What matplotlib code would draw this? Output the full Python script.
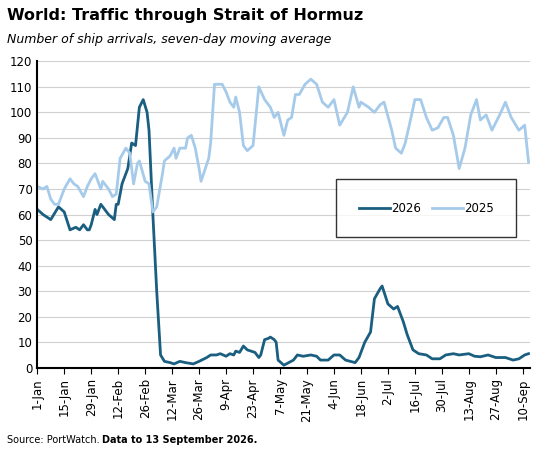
import matplotlib
matplotlib.use("Agg")
import matplotlib.pyplot as plt
import pandas as pd

days_2026 = [0,3,7,11,14,17,20,22,24,26,27,28,30,31,33,35,37,40,41,42,44,46,47,49,51,53,55,57,58,60,62,64,66,69,71,74,77,81,84,88,90,93,95,98,100,102,103,105,107,109,111,113,115,116,118,120,121,123,124,125,128,133,135,138,142,145,147,151,154,157,160,165,167,170,173,175,178,179,182,185,187,190,192,195,198,202,205,209,212,216,219,224,227,230,234,238,243,247,250,253,255]
vals_2026 = [62,60,58,63,61,54,55,54,56,54,54,56,62,60,64,62,60,58,64,64,72,76,78,88,87,102,105,100,93,60,30,5,2.5,2,1.5,2.5,2,1.5,2.5,4,5,5,5.5,4.5,5.5,5,6.5,6,8.5,7,6.5,6,4,5,11,11.5,12,11,10,3,1,3,5,4.5,5,4.5,3,3,5,5,3,2,4,10,14,27,31,32,25,23,24,18,13,7,5.5,5,3.5,3.5,5,5.5,5,5.5,4.5,4.3,5,4,4,3,3.5,5,5.5]

days_2025 = [0,3,5,7,9,11,14,17,19,21,24,26,28,30,33,34,37,39,41,43,46,48,50,52,53,56,58,60,62,65,66,69,71,72,74,77,78,80,82,84,85,89,90,92,96,98,100,102,103,105,107,109,112,115,118,121,123,125,128,130,132,134,136,139,142,145,148,151,154,157,161,164,167,168,172,175,178,180,184,186,189,191,194,196,199,202,205,208,211,213,216,219,222,225,228,230,233,236,240,243,246,250,253,255]
vals_2025 = [71,70,71,66,64,64,70,74,72,71,67,71,74,76,70,73,70,67,68,82,86,84,72,80,81,73,72,61,63,76,81,83,86,82,86,86,90,91,86,78,73,82,88,111,111,108,104,102,106,100,87,85,87,110,105,102,98,100,91,97,98,107,107,111,113,111,104,102,105,95,100,110,102,104,102,100,103,104,93,86,84,88,98,105,105,98,93,94,98,98,91,78,86,99,105,97,99,93,99,104,98,93,95,80.5]

start = pd.Timestamp("2026-01-01")
d26 = [start + pd.Timedelta(days=d) for d in days_2026]
d25 = [start + pd.Timedelta(days=d) for d in days_2025]

fig = plt.figure(figsize=(5.48, 4.54), dpi=100)
ax = fig.add_axes([0.068, 0.19, 0.9, 0.675])
ax.plot(d26, vals_2026, color="#1a5e80", lw=2.0, label="2026")
ax.plot(d25, vals_2025, color="#a6cbea", lw=2.0, label="2025")
ax.set_ylim(0, 120)
ax.set_yticks(range(0, 121, 10))
ax.set_xlim(start, start + pd.Timedelta(days=256))
ticks = [start + pd.Timedelta(days=14 * i) for i in range(19)]
ax.set_xticks(ticks)
ax.set_xticklabels([f"{t.day}-{t.strftime('%b')}" for t in ticks], rotation=90, fontsize=8.5)
ax.tick_params(axis="y", labelsize=8.5, length=0)
ax.tick_params(axis="x", length=4, direction="out")
ax.grid(axis="y", color="#d0d0d0", lw=0.8)
ax.set_axisbelow(True)
for s in ["top", "right"]:
    ax.spines[s].set_visible(False)
ax.spines["left"].set_linewidth(1.5)
ax.spines["bottom"].set_linewidth(1.5)
leg = ax.legend(loc="center", bbox_to_anchor=(0.645, 0.42, 0.288, 0.2), ncol=2, frameon=True,
                fontsize=8.5, fancybox=False, borderpad=1.9, handlelength=2.6, handletextpad=0.1,
                columnspacing=1.0)
leg.get_frame().set_edgecolor("black")
leg.get_frame().set_linewidth(1)

fig.text(0.012, 0.955, "World: Traffic through Strait of Hormuz", fontsize=11.5, fontweight="bold")
fig.text(0.012, 0.905, "Number of ship arrivals, seven-day moving average", fontsize=9, style="italic")
t1 = fig.text(0.012, 0.025, "Source: PortWatch.", fontsize=7)
fig.canvas.draw()
bb = t1.get_window_extent().transformed(fig.transFigure.inverted())
fig.text(bb.x1 + 0.006, 0.025, "Data to 13 September 2026.", fontsize=7, fontweight="bold")
fig.savefig("out.png", dpi=100)
